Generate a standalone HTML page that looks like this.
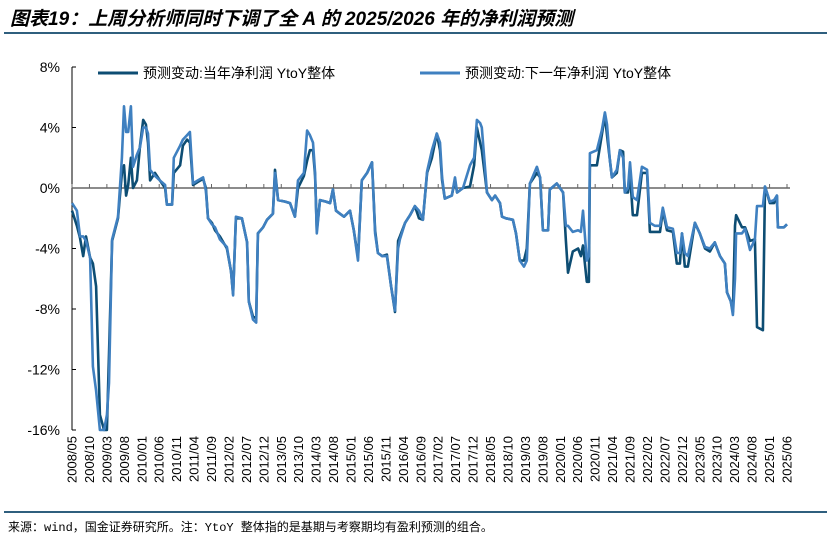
<!DOCTYPE html>
<html><head><meta charset="utf-8"><style>
html,body{margin:0;padding:0;background:#fff;}
body{width:831px;height:541px;position:relative;overflow:hidden;font-family:"Liberation Sans","Noto Sans CJK SC",sans-serif;}
.title{position:absolute;left:10px;top:4px;font-size:19px;font-weight:bold;font-style:italic;color:#000;font-family:"Liberation Sans","Noto Sans CJK SC",sans-serif;white-space:nowrap;}
.rule{position:absolute;left:4px;width:823px;height:2px;background:#2f5f7e;}
.foot{position:absolute;left:8px;top:518px;font-size:12px;color:#000;font-family:"Liberation Mono","Noto Sans CJK SC",monospace;white-space:nowrap;}
svg{position:absolute;left:0;top:0;}
</style></head><body>
<div class="title">图表19：上周分析师同时下调了全 A 的 2025/2026 年的净利润预测</div>
<div class="rule" style="top:32px"></div>
<div class="rule" style="top:511px"></div>
<div class="foot">来源：wind，国金证券研究所。注：YtoY 整体指的是基期与考察期均有盈利预测的组合。</div>
<svg id="chart" width="831" height="541"></svg>
<script>
const months=[0,1.4,2.3,3.2,4.0,5.2,6.0,6.9,8.0,9.2,10.0,10.6,11.5,13.2,14.3,14.9,15.5,16.1,16.9,17.5,18.6,19.5,20.4,21.2,21.8,22.4,23.8,25.2,26.7,27.2,28.7,29.2,31.0,31.8,33.0,33.8,34.7,36.1,37.6,38.4,39.0,40.1,41.0,42.4,44.4,45.6,46.2,47.0,48.7,50.2,50.7,51.9,52.8,53.3,54.8,55.9,57.6,58.2,59.1,61.1,62.5,63.9,64.8,66.5,67.4,68.2,69.1,69.7,70.2,71.1,72.8,74.0,74.8,75.7,76.8,78.0,79.7,80.8,82.0,83.1,84.6,86.0,86.9,87.7,88.9,90.3,91.5,92.6,93.5,94.0,95.5,96.9,98.3,99.5,100.6,101.8,103.2,104.6,105.5,106.1,106.9,108.9,109.8,110.4,112.1,114.1,115.3,116.1,117.0,117.5,119.0,120.4,121.3,122.7,123.3,124.4,126.4,127.3,128.4,129.6,130.4,131.3,133.3,134.2,135.0,136.5,137.0,139.0,140.8,141.6,142.2,143.6,145.1,145.9,146.5,147.6,148.2,148.5,150.5,151.9,152.8,153.4,154.2,154.8,156.2,157.1,158.0,158.5,159.4,160.0,160.8,162.0,163.4,164.9,165.7,167.1,168.6,169.4,170.6,172.3,173.4,174.3,174.9,175.7,176.6,178.6,180.0,181.5,182.9,184.3,185.8,187.2,187.8,188.9,189.5,190.1,190.4,192.1,193.0,194.4,195.8,196.4,198.1,198.7,200.1,201.3,202.1,202.4,204.1,205.0];
const currentYear=[-1.5,-2.5,-3.3,-4.5,-3.2,-4.6,-5.0,-6.5,-15,-16,-16,-11,-3.5,-2.0,1.0,1.5,-0.5,0.2,2.0,0.0,0.5,2.8,4.5,4.2,3.0,0.5,1.0,0.5,0.0,-1.1,-1.1,1.0,1.5,2.8,3.2,3.0,0.2,0.4,0.6,0.0,-2.0,-2.3,-2.8,-3.2,-4.0,-5.5,-7.0,-2.0,-2.0,-3.6,-7.5,-8.5,-8.6,-3.0,-2.6,-2.1,-1.7,1.2,-0.8,-0.9,-1.0,-1.9,0.0,0.8,1.8,2.5,2.5,0.8,-2.8,-0.8,-0.9,-1.0,-0.1,-1.5,-1.7,-1.9,-1.5,-2.8,-4.6,0.5,1.0,1.7,-2.8,-4.3,-4.5,-4.4,-6.5,-8.2,-3.5,-3.2,-2.3,-1.8,-1.2,-2.0,-2.1,1.0,2.0,3.6,2.5,0.5,-0.7,-0.5,0.5,-0.3,0.0,0.1,1.5,4.0,3.0,2.5,-0.3,-0.8,-0.5,-1.0,-1.9,-2.0,-2.1,-3.0,-4.8,-4.8,-4.0,0.3,1.0,0.7,-2.8,-2.8,-0.1,0.3,-0.3,-3.5,-5.6,-4.2,-4.0,-4.5,-3.8,-6.2,-6.2,1.5,1.5,3.5,4.8,3.5,1.9,0.7,1.0,2.5,2.4,-0.3,-0.3,1.0,-1.8,-1.8,1.0,1.0,-2.9,-2.9,-2.9,-1.5,-2.8,-2.9,-5.0,-5.0,-3.0,-5.2,-5.2,-2.3,-3.0,-4.0,-4.2,-3.6,-4.5,-5.0,-6.9,-7.5,-8.2,-2.5,-1.8,-2.6,-2.6,-3.5,-3.4,-9.2,-9.4,0.1,-1.0,-1.0,-0.5,-2.6,-2.6,-2.4];
const nextYear=[-1.0,-1.5,-3.2,-3.2,-3.5,-4.6,-11.8,-13.4,-16,-16,-15,-12.9,-3.4,-1.9,2.0,5.4,3.7,3.7,5.4,1.4,2.2,2.7,4.0,4.0,3.6,1.2,0.8,0.5,0.2,-1.1,-1.1,2.0,2.8,3.2,3.5,3.7,0.3,0.5,0.7,-0.2,-2.0,-2.4,-2.6,-3.4,-3.9,-5.5,-7.1,-1.9,-2.0,-3.6,-7.5,-8.7,-8.9,-3.0,-2.6,-2.1,-1.7,1.0,-0.8,-0.9,-1.0,-1.9,0.5,1.0,3.8,3.5,3.0,1.0,-3.0,-0.8,-0.9,-1.0,-0.1,-1.5,-1.7,-1.9,-1.5,-2.8,-4.8,0.5,1.0,1.7,-3.0,-4.3,-4.5,-4.5,-6.5,-8.1,-4.0,-3.4,-2.3,-1.8,-1.2,-1.5,-2.1,1.1,2.5,3.6,3.0,0.7,-0.7,-0.5,0.7,-0.3,0.0,1.5,2.0,4.5,4.3,4.0,-0.3,-0.8,-0.5,-1.0,-1.9,-2.0,-2.1,-3.0,-4.8,-5.2,-4.8,0.3,1.4,0.7,-2.8,-2.8,-0.1,0.3,-0.3,-2.5,-2.5,-2.9,-2.8,-2.9,-1.5,-4.8,-4.5,2.3,2.5,3.8,5.0,4.2,1.9,0.7,1.2,2.5,2.0,-0.3,0.0,1.7,-0.6,-0.8,1.4,1.2,-2.3,-2.5,-2.5,-1.3,-2.6,-2.7,-4.3,-4.3,-3.0,-4.3,-4.5,-2.3,-3.0,-3.9,-4.0,-3.6,-4.5,-5.0,-6.9,-7.5,-8.4,-6.0,-3.0,-3.0,-2.7,-4.1,-3.4,-1.2,-1.2,0.1,-0.9,-0.8,-0.5,-2.6,-2.6,-2.4];
const yTicks=[8,4,0,-4,-8,-12,-16];
const yTickLabels=["8%","4%","0%","-4%","-8%","-12%","-16%"];
const xLabels=[];
for(let k=0;k<=41;k++){const m=4+5*k;const y=2008+Math.floor(m/12);const mo=m%12+1;xLabels.push(y+"/"+(mo<10?"0":"")+mo);}

const svg=document.getElementById('chart');
const NS='http://www.w3.org/2000/svg';
const X0=72,X1=787,Y0=67,Y1=430;
const xs=m=>X0+(m-0)/(205-0)*(X1-X0);
const ys=v=>Y0+(8-v)/(8-(-16))*(Y1-Y0);
function mk(tag,attrs){const e=document.createElementNS(NS,tag);for(const k in attrs)e.setAttribute(k,attrs[k]);svg.appendChild(e);return e;}

// y axis
let ax=mk('line',{x1:X0,y1:Y0,x2:X0,y2:Y1,stroke:'#000','stroke-width':1});


yTicks.forEach((v,i)=>{
  const t=mk('line',{x1:X0,y1:ys(v),x2:X0+4,y2:ys(v),stroke:'#000','stroke-width':1});
  
  
  const l=mk('text',{x:X0-12,y:ys(v)+5,'text-anchor':'end','font-size':14,fill:'#000'});
  l.textContent=yTickLabels[i];
  
  
});
// zero line
const z=mk('line',{x1:X0,y1:ys(0),x2:X1+3,y2:ys(0),stroke:'#666','stroke-width':1.5});


xLabels.forEach((s,k)=>{
  const x=xs(5*k);
  const t=mk('line',{x1:x,y1:ys(0),x2:x,y2:ys(0)-4,stroke:'#666','stroke-width':1});
  
  
  const l=mk('text',{x:0,y:0,'font-size':13,fill:'#000','text-anchor':'end',transform:'translate('+(x+4.5)+','+(Y1+6)+') rotate(-90)'});
  l.textContent=s;
  
  
});
function line(vals,color,name){
  let d='';vals.forEach((v,i)=>{d+=(i?'L':'M')+xs(months[i]).toFixed(1)+' '+ys(v).toFixed(1);});
  const p=mk('path',{d:d,fill:'none',stroke:color,'stroke-width':2.6,'stroke-linejoin':'round'});
  
  
}
line(currentYear,'#0d4d73','series-current-year');
line(nextYear,'#3f80c0','series-next-year');
// legend
function legend(x,color,text,name){
  const l=mk('line',{x1:x,y1:73,x2:x+40,y2:73,stroke:color,'stroke-width':3});
  
  
  const t=mk('text',{x:x+45,y:78,'font-size':14,fill:'#000','font-family':'"Liberation Sans","Noto Sans CJK SC",sans-serif'});
  t.textContent=text;
  
  
}
legend(98,'#0d4d73','预测变动:当年净利润 YtoY整体','legend-current-year');
legend(420,'#3f80c0','预测变动:下一年净利润 YtoY整体','legend-next-year');
</script>
</body></html>
